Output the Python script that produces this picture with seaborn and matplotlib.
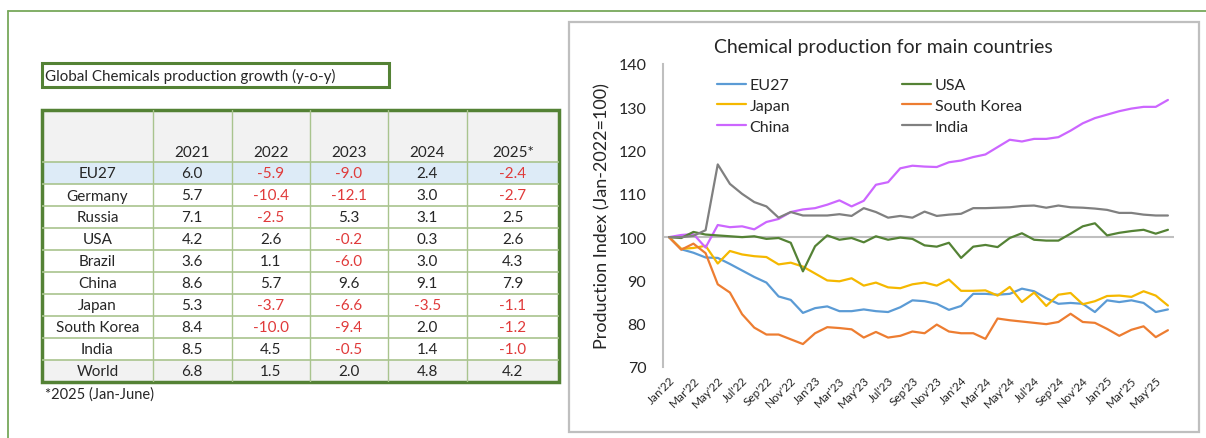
import matplotlib

matplotlib.use("Agg")
import matplotlib.pyplot as plt
import numpy as np
import pandas as pd
import seaborn as sns
from matplotlib.lines import Line2D
from matplotlib.patches import Rectangle

# ---- table data (y-o-y growth, %) ----
table_years = ["2021", "2022", "2023", "2024", "2025*"]
table_countries = ["EU27", "Germany", "Russia", "USA", "Brazil", "China",
                   "Japan", "South Korea", "India", "World"]
growth_2021 = [6.0, 5.7, 7.1, 4.2, 3.6, 8.6, 5.3, 8.4, 8.5, 6.8]
growth_2022 = [-5.9, -10.4, -2.5, 2.6, 1.1, 5.7, -3.7, -10.0, 4.5, 1.5]
growth_2023 = [-9.0, -12.1, 5.3, -0.2, -6.0, 9.6, -6.6, -9.4, -0.5, 2.0]
growth_2024 = [2.4, 3.0, 3.1, 0.3, 3.0, 9.1, -3.5, 2.0, 1.4, 4.8]
growth_2025 = [-2.4, -2.7, 2.5, 2.6, 4.3, 7.9, -1.1, -1.2, -1.0, 4.2]

# ---- line chart data (index, Jan-2022 = 100), Jan'22 .. Jun'25 ----
tick_labels = ["Jan'22", "Mar'22", "May'22", "Jul'22", "Sep'22", "Nov'22",
               "Jan'23", "Mar'23", "May'23", "Jul'23", "Sep'23", "Nov'23",
               "Jan'24", "Mar'24", "May'24", "Jul'24", "Sep'24", "Nov'24",
               "Jan'25", "Mar'25", "May'25"]
eu27 = [100, 97.2, 96.4, 95.3, 95.2, 93.8, 92.3, 90.8, 89.5, 86.3, 85.5, 82.5,
        83.6, 84.0, 82.9, 82.9, 83.3, 82.9, 82.7, 83.8, 85.4, 85.2, 84.6, 83.2,
        84.1, 86.9, 86.9, 86.7, 86.9, 88.1, 87.5, 85.9, 84.6, 84.8, 84.6, 82.7,
        85.4, 85.0, 85.4, 84.8, 82.7, 83.3]
usa = [100, 99.8, 101.2, 100.6, 100.4, 100.2, 100.0, 100.2, 99.6, 99.8, 98.7, 92.1,
       97.9, 100.4, 99.4, 99.8, 98.8, 100.2, 99.4, 99.9, 99.6, 98.1, 97.8, 98.7,
       95.2, 97.8, 98.2, 97.7, 99.8, 100.9, 99.4, 99.2, 99.2, 100.8, 102.5, 103.2,
       100.4, 101.0, 101.4, 101.7, 100.8, 101.7]
japan = [100, 97.3, 97.5, 98.0, 93.9, 96.8, 96.0, 95.6, 95.4, 93.7, 94.1, 93.2,
         91.6, 90.0, 89.8, 90.5, 88.8, 89.5, 88.4, 88.2, 89.1, 89.5, 88.8, 90.2,
         87.6, 87.6, 87.7, 86.5, 88.5, 85.0, 87.2, 84.1, 86.7, 87.1, 84.5, 85.2,
         86.4, 86.5, 86.2, 87.5, 86.5, 84.2]
south_korea = [100, 97.1, 98.5, 96.3, 89.1, 87.2, 82.2, 79.1, 77.5, 77.5, 76.4, 75.3,
               77.8, 79.2, 79.0, 78.7, 76.8, 78.1, 76.8, 77.2, 78.2, 77.8, 79.8, 78.2,
               77.8, 77.8, 76.5, 81.2, 80.8, 80.5, 80.2, 79.9, 80.4, 82.3, 80.4, 80.2,
               78.8, 77.2, 78.6, 79.4, 76.9, 78.5]
china = [100, 100.5, 100.7, 97.6, 102.8, 102.3, 102.5, 101.8, 103.5, 104.2, 105.8, 106.4,
         106.7, 107.5, 108.5, 107.1, 108.4, 112.1, 112.7, 115.9, 116.5, 116.3, 116.2, 117.3,
         117.7, 118.5, 119.1, 120.8, 122.5, 122.1, 122.7, 122.7, 123.1, 124.6, 126.3, 127.5,
         128.3, 129.1, 129.7, 130.1, 130.1, 131.7]
india = [100, 100.0, 100.3, 101.6, 116.8, 112.3, 110.0, 108.1, 107.1, 104.5, 105.8, 105.0,
         105.0, 105.0, 105.3, 104.9, 106.7, 105.8, 104.5, 104.9, 104.5, 105.9, 104.9, 105.2,
         105.4, 106.7, 106.7, 106.8, 106.9, 107.2, 107.3, 106.8, 107.3, 106.9, 106.8, 106.6,
         106.3, 105.6, 105.6, 105.2, 105.0, 105.0]

series_names = ["EU27", "Japan", "China", "USA", "South Korea", "India"]
palette = {
    "EU27": "#5B9BD5",
    "USA": "#548235",
    "Japan": "#F5B800",
    "South Korea": "#ED7D31",
    "China": "#CC66FF",
    "India": "#808080",
}

W, H = 1206, 439
GREEN = "#548235"
GRID_GREEN = "#A9C48E"
RED = "#E03A3A"
TEXT = "#262626"


def fig_rect(left, top, right, bottom):
    # pixel box -> figure fraction [l, b, w, h]
    return [left / W, (H - bottom) / H, (right - left) / W, (bottom - top) / H]


def draw_table(fig):
    ax = fig.add_axes(fig_rect(42, 111, 559, 383))
    col_w = [111, 78.5, 78.5, 78, 78.5, 92.5]
    col_edges = np.concatenate([[0], np.cumsum(col_w)])
    head_h, row_h = 52, 22
    values = np.array([growth_2021, growth_2022, growth_2023,
                       growth_2024, growth_2025]).T

    ax.set_xlim(0, col_edges[-1])
    ax.set_ylim(head_h + row_h * len(table_countries), 0)
    ax.axis("off")

    # header
    ax.add_patch(Rectangle((0, 0), col_edges[-1], head_h, fc="#F2F2F2", ec="none"))
    for j, year in enumerate(table_years):
        xc = (col_edges[j + 1] + col_edges[j + 2]) / 2
        ax.text(xc, head_h - 10, year, ha="center", va="center",
                fontsize=11, color=TEXT)

    for i, country in enumerate(table_countries):
        y0 = head_h + i * row_h
        fill = "white"
        if country == "EU27":
            fill = "#DDEBF7"
        elif country == "World":
            fill = "#F2F2F2"
        ax.add_patch(Rectangle((0, y0), col_edges[-1], row_h, fc=fill, ec="none"))
        ax.text(col_w[0] / 2, y0 + row_h / 2 + 0.5, country, ha="center",
                va="center", fontsize=11, color=TEXT)
        for j in range(len(table_years)):
            v = values[i, j]
            xc = (col_edges[j + 1] + col_edges[j + 2]) / 2
            ax.text(xc, y0 + row_h / 2 + 0.5, f"{v:.1f}", ha="center",
                    va="center", fontsize=11, color=RED if v < 0 else TEXT)

    # grid lines
    for x in col_edges[1:-1]:
        ax.plot([x, x], [0, ax.get_ylim()[0]], color=GRID_GREEN, lw=1)
    for i in range(len(table_countries)):
        y = head_h + i * row_h
        ax.plot([0, col_edges[-1]], [y, y], color=GRID_GREEN, lw=1.2)
    ax.add_patch(Rectangle((0, 0), col_edges[-1], ax.get_ylim()[0], fc="none",
                           ec=GREEN, lw=2.5, clip_on=False))


def draw_chart(fig):
    months = np.arange(len(eu27))
    df = pd.DataFrame({
        "EU27": eu27, "USA": usa, "Japan": japan,
        "South Korea": south_korea, "China": china, "India": india,
    })
    df["Month"] = months
    long_df = df.melt(id_vars="Month", var_name="Country", value_name="Index")

    ax = fig.add_axes(fig_rect(663, 65, 1174, 368))
    ax.patch.set_alpha(0)
    ax.axhline(100, color="#BFBFBF", lw=1.5, zorder=1)
    sns.lineplot(
        data=long_df,
        x="Month",
        y="Index",
        hue="Country",
        hue_order=series_names,
        palette=palette,
        linewidth=1.6,
        ax=ax,
        zorder=3,
    )

    ax.set_xlim(-0.5, len(months) - 0.5)
    ax.set_ylim(70, 140)
    ax.set_yticks(range(70, 141, 10))
    ax.set_xticks(months[::2])
    ax.set_xticklabels(tick_labels, rotation=45, ha="right",
                       rotation_mode="anchor", fontsize=8.5, color=TEXT)
    ax.tick_params(axis="x", length=0, pad=5)
    ax.tick_params(axis="y", length=0, pad=12, labelsize=11.5, labelcolor=TEXT)
    for side in ["top", "right", "bottom"]:
        ax.spines[side].set_visible(False)
    ax.spines["left"].set_color("#BFBFBF")
    ax.spines["left"].set_linewidth(1.5)
    ax.grid(False)
    ax.set_xlabel("")
    ax.set_ylabel("Production Index (Jan-2022=100)", fontsize=13,
                  color=TEXT, labelpad=6)

    handles, labels = ax.get_legend_handles_labels()
    ax.legend(
        handles,
        labels,
        ncol=2,
        loc="upper left",
        bbox_to_anchor=(717 / W, (H - 79) / H),
        bbox_transform=fig.transFigure,
        frameon=False,
        fontsize=11.5,
        handlelength=1.8,
        handletextpad=0.25,
        columnspacing=7.0,
        labelspacing=0.42,
        borderaxespad=0,
        borderpad=0,
    )
    fig.text(883 / W, (H - 48) / H, "Chemical production for main countries",
             ha="center", va="center", fontsize=14, color=TEXT)


def main():
    sns.set_style("white")
    plt.rcParams["font.family"] = ["Lato", "DejaVu Sans"]

    fig = plt.figure(figsize=(W / 100, H / 100), dpi=100)

    # outer green frame (top and left)
    fig.add_artist(Line2D([8 / W, 1], [(H - 12) / H] * 2, color="#77A85A", lw=1.3))
    fig.add_artist(Line2D([8 / W] * 2, [0, (H - 12) / H], color="#77A85A", lw=1.3))

    # chart panel border
    fig.add_artist(Rectangle((569 / W, (H - 433) / H), 630 / W, 410 / H,
                             transform=fig.transFigure, fc="none",
                             ec="#BFBFBF", lw=1.6, zorder=-1))

    # title box of the table
    fig.add_artist(Rectangle((41.5 / W, (H - 88) / H), 347.5 / W, 24 / H,
                             transform=fig.transFigure, fc="none",
                             ec=GREEN, lw=2.2, zorder=-1))
    fig.text(45 / W, (H - 76) / H, "Global Chemicals production growth (y-o-y)",
             ha="left", va="center", fontsize=10.9, color=TEXT)

    draw_table(fig)
    fig.text(45 / W, (H - 395) / H, "*2025 (Jan-June)", ha="left",
             va="center", fontsize=10.5, color=TEXT)

    draw_chart(fig)

    fig.savefig("out.png", dpi=100)


if __name__ == "__main__":
    main()
